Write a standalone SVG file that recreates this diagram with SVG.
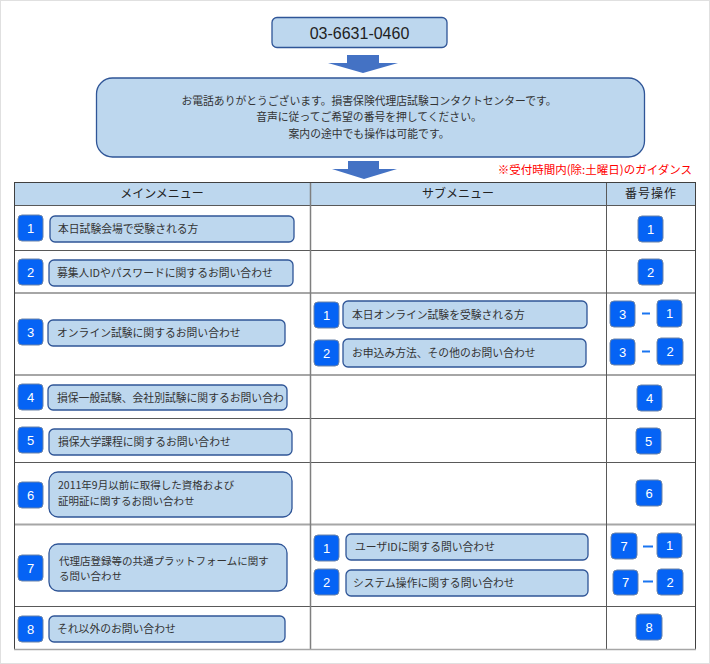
<svg xmlns="http://www.w3.org/2000/svg" width="710" height="664" viewBox="0 0 710 664">
<style>
.bx{fill:#BDD7EE;stroke:#2F5597;stroke-width:1.3}
.bd{fill:#0563F5;stroke:#6C84A8;stroke-width:1}
.bt{font-family:"Liberation Sans",Arial,sans-serif;font-size:13px;fill:#fff;text-anchor:middle}
.t{font-family:"Noto Sans CJK JP","Noto Sans",sans-serif;font-size:10.8px;fill:#333}
.t2{font-size:10.5px}
.h{font-family:"Noto Sans CJK JP","Noto Sans",sans-serif;font-size:12px;fill:#222;text-anchor:middle}
.ds{stroke:#1A75F0;stroke-width:2}
.lg{stroke:#A6A6A6;stroke-width:2}
.ld{stroke:#595959;stroke-width:1}
.arr{fill:#4472C4}
</style>
<rect x="0" y="0" width="710" height="664" fill="#fff"/>
<rect x="0.5" y="0.5" width="709" height="663" fill="none" stroke="#E0E0E0"/>

<g id="phone">
<rect class="bx" x="272" y="17.5" width="175" height="30" rx="5"/>
<text x="359.5" y="38.5" font-family="Liberation Sans,Arial,sans-serif" font-size="16" fill="#222" text-anchor="middle">03-6631-0460</text>
</g>

<g id="connectors">
<polygon class="arr" points="347,55 379,55 379,63 398,63 363,73 328,63 347,63"/>
<polygon class="arr" points="348,161 379,161 379,169 397,169 364,179 332,169 348,169"/>
</g>

<g id="greeting">
<rect class="bx" x="96.5" y="78" width="548" height="79" rx="16"/>
<text class="t" x="369" y="104.5" text-anchor="middle" font-size="11.2">お電話ありがとうございます。損害保険代理店試験コンタクトセンターです。</text>
<text class="t" x="369" y="121" text-anchor="middle" font-size="11.2">音声に従ってご希望の番号を押してください。</text>
<text class="t" x="369" y="138" text-anchor="middle" font-size="11.2">案内の途中でも操作は可能です。</text>
</g>

<g id="note">
<text x="692" y="174" font-family="Noto Sans CJK JP,sans-serif" font-size="11.5" fill="#FF0000" text-anchor="end">※受付時間内(除:土曜日)のガイダンス</text>
</g>

<g id="table">
<rect x="14.5" y="182.5" width="681" height="23" fill="#BDD7EE"/>
<line class="ld" x1="14" y1="205.5" x2="696" y2="205.5"/>
<line class="ld" x1="14" y1="250.5" x2="696" y2="250.5"/>
<line class="lg" x1="14" y1="293" x2="696" y2="293"/>
<line class="lg" x1="14" y1="375" x2="696" y2="375"/>
<line class="ld" x1="14" y1="418.5" x2="696" y2="418.5"/>
<line class="ld" x1="14" y1="462.5" x2="696" y2="462.5"/>
<line class="lg" x1="14" y1="524.5" x2="696" y2="524.5"/>
<line class="ld" x1="14" y1="606.5" x2="696" y2="606.5"/>
<line x1="310.5" y1="182" x2="310.5" y2="650" stroke="#7F7F7F" stroke-width="1.5"/>
<line class="ld" x1="606.5" y1="182" x2="606.5" y2="650"/>
<rect x="14.5" y="182.5" width="681" height="467" fill="none" stroke="#404040" stroke-width="1"/>
<line x1="14" y1="649.5" x2="696" y2="649.5" stroke="#A6A6A6" stroke-width="1.5"/>
<text class="h" x="162" y="198">メインメニュー</text>
<text class="h" x="458" y="198">サブメニュー</text>
<text class="h" x="651" y="198" letter-spacing="1">番号操作</text>
</g>

<g id="main1">
<rect class="bd" x="18" y="215" width="25" height="26" rx="4"/><text class="bt" x="30.5" y="232.5">1</text>
<rect class="bx" x="50" y="216" width="244" height="26" rx="5"/><text class="t" x="58" y="233">本日試験会場で受験される方</text>
</g>
<g id="main2">
<rect class="bd" x="18" y="259" width="25" height="26" rx="4"/><text class="bt" x="30.5" y="276.5">2</text>
<rect class="bx" x="49" y="260" width="244" height="26" rx="5"/><text class="t" x="57" y="277">募集人IDやパスワードに関するお問い合わせ</text>
</g>
<g id="main3">
<rect class="bd" x="18" y="319" width="25" height="26" rx="4"/><text class="bt" x="30.5" y="336.5">3</text>
<rect class="bx" x="48" y="320" width="237" height="26" rx="5"/><text class="t" x="57" y="337">オンライン試験に関するお問い合わせ</text>
</g>
<g id="main4">
<rect class="bd" x="18" y="384" width="25" height="26" rx="4"/><text class="bt" x="30.5" y="401.5">4</text>
<rect class="bx" x="48" y="385" width="239" height="25" rx="5"/><text class="t" x="57" y="401.5">損保一般試験、会社別試験に関するお問い合わ</text>
</g>
<g id="main5">
<rect class="bd" x="18" y="427" width="25" height="26" rx="4"/><text class="bt" x="30.5" y="444.5">5</text>
<rect class="bx" x="49" y="429" width="243" height="26" rx="5"/><text class="t" x="58" y="446">損保大学課程に関するお問い合わせ</text>
</g>
<g id="main6">
<rect class="bd" x="18" y="482" width="25" height="26" rx="4"/><text class="bt" x="30.5" y="499.5">6</text>
<rect class="bx" x="49" y="472" width="243" height="45" rx="9"/>
<text class="t t2" x="58" y="489">2011年9月以前に取得した資格および</text>
<text class="t t2" x="58" y="504.5">証明証に関するお問い合わせ</text>
</g>
<g id="main7">
<rect class="bd" x="18" y="555" width="25" height="26" rx="4"/><text class="bt" x="30.5" y="572.5">7</text>
<rect class="bx" x="49" y="544" width="238" height="47" rx="9"/>
<text class="t t2" x="59" y="564.5">代理店登録等の共通プラットフォームに関す</text>
<text class="t t2" x="59" y="580">る問い合わせ</text>
</g>
<g id="main8">
<rect class="bd" x="18" y="616" width="25" height="26" rx="4"/><text class="bt" x="30.5" y="633.5">8</text>
<rect class="bx" x="49" y="616" width="236" height="26" rx="5"/><text class="t" x="57" y="633">それ以外のお問い合わせ</text>
</g>

<g id="sub3-1">
<rect class="bd" x="314" y="302" width="25" height="26" rx="4"/><text class="bt" x="326.5" y="319.5">1</text>
<rect class="bx" x="343" y="301" width="244" height="27" rx="5"/><text class="t" x="352" y="318.5">本日オンライン試験を受験される方</text>
</g>
<g id="sub3-2">
<rect class="bd" x="314" y="340" width="25" height="26" rx="4"/><text class="bt" x="326.5" y="357.5">2</text>
<rect class="bx" x="343" y="339" width="243" height="28" rx="5"/><text class="t" x="352" y="357">お申込み方法、その他のお問い合わせ</text>
</g>
<g id="sub7-1">
<rect class="bd" x="314" y="535" width="25" height="26" rx="4"/><text class="bt" x="326.5" y="552.5">1</text>
<rect class="bx" x="346" y="534" width="242" height="26" rx="5"/><text class="t" x="355" y="551">ユーザIDに関する問い合わせ</text>
</g>
<g id="sub7-2">
<rect class="bd" x="314" y="569" width="25" height="26" rx="4"/><text class="bt" x="326.5" y="586.5">2</text>
<rect class="bx" x="346" y="570" width="242" height="26" rx="5"/><text class="t" x="353" y="587">システム操作に関する問い合わせ</text>
</g>

<g id="op1"><rect class="bd" x="638" y="216" width="25" height="26" rx="4"/><text class="bt" x="650.5" y="233.5">1</text></g>
<g id="op2"><rect class="bd" x="638" y="259" width="25" height="26" rx="4"/><text class="bt" x="650.5" y="276.5">2</text></g>
<g id="op3-1">
<rect class="bd" x="610" y="301" width="25" height="26" rx="4"/><text class="bt" x="622.5" y="318.5">3</text>
<line class="ds" x1="642" y1="313.5" x2="650" y2="313.5"/>
<rect class="bd" x="657" y="300" width="25" height="27" rx="4"/><text class="bt" x="669.5" y="318">1</text>
</g>
<g id="op3-2">
<rect class="bd" x="610" y="339" width="25" height="26" rx="4"/><text class="bt" x="622.5" y="356.5">3</text>
<line class="ds" x1="642" y1="351.5" x2="650" y2="351.5"/>
<rect class="bd" x="657" y="338" width="26" height="27" rx="4"/><text class="bt" x="670" y="356">2</text>
</g>
<g id="op4"><rect class="bd" x="637" y="385" width="25" height="26" rx="4"/><text class="bt" x="649.5" y="402.5">4</text></g>
<g id="op5"><rect class="bd" x="636" y="428" width="25" height="26" rx="4"/><text class="bt" x="648.5" y="445.5">5</text></g>
<g id="op6"><rect class="bd" x="636" y="480" width="26" height="26" rx="4"/><text class="bt" x="649" y="497.5">6</text></g>
<g id="op7-1">
<rect class="bd" x="611" y="533" width="26" height="26" rx="4"/><text class="bt" x="624" y="550.5">7</text>
<line class="ds" x1="643" y1="546.5" x2="653" y2="546.5"/>
<rect class="bd" x="657" y="533" width="25" height="25" rx="4"/><text class="bt" x="669.5" y="550">1</text>
</g>
<g id="op7-2">
<rect class="bd" x="613" y="570" width="25" height="25" rx="4"/><text class="bt" x="625.5" y="587">7</text>
<line class="ds" x1="643" y1="581.5" x2="653" y2="581.5"/>
<rect class="bd" x="657" y="569" width="26" height="26" rx="4"/><text class="bt" x="670" y="586.5">2</text>
</g>
<g id="op8"><rect class="bd" x="636" y="614" width="26" height="26" rx="4"/><text class="bt" x="649" y="631.5">8</text></g>
</svg>
